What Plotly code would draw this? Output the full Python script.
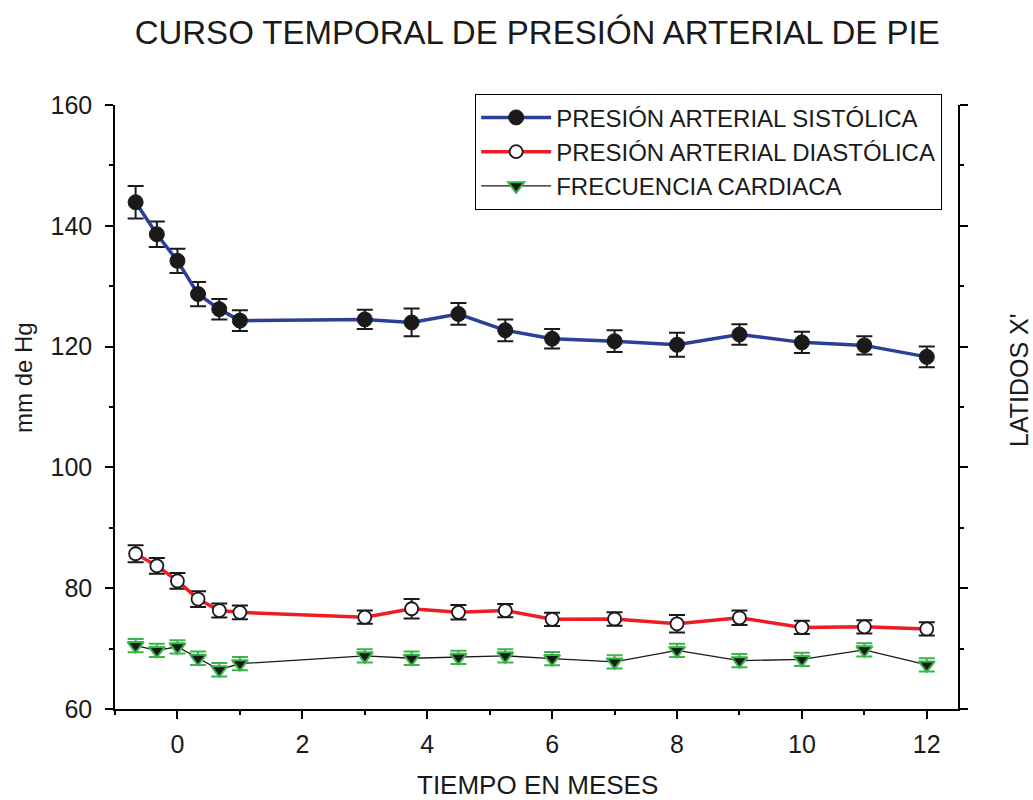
import plotly.graph_objects as go

# ---- data ----
months = [-0.67, -0.33, 0, 0.33, 0.67, 1, 3, 3.75, 4.5, 5.25, 6, 7, 8, 9, 10, 11, 12]

sistolica = [143.9, 138.6, 134.2, 128.7, 126.2, 124.3, 124.5, 124.0, 125.4, 122.7,
             121.3, 120.9, 120.3, 122.0, 120.7, 120.2, 118.3]
sistolica_err = [2.7, 2.1, 2.0, 2.0, 1.7, 1.7, 1.6, 2.3, 1.8, 1.8,
                 1.6, 1.8, 2.0, 1.7, 1.75, 1.5, 1.7]

diastolica = [85.7, 83.7, 81.2, 78.2, 76.3, 76.0, 75.2, 76.6, 76.0, 76.3,
              74.85, 74.9, 74.1, 75.1, 73.5, 73.6, 73.25]
diastolica_err = [1.4, 1.3, 1.3, 1.3, 1.15, 1.15, 1.1, 1.6, 1.2, 1.1,
                  1.1, 1.1, 1.45, 1.2, 1.1, 1.1, 1.1]

frecuencia = [70.5, 69.7, 70.3, 68.4, 66.5, 67.5, 68.8, 68.4, 68.55, 68.8,
              68.35, 67.8, 69.7, 68.0, 68.2, 69.8, 67.3]
frecuencia_err = [1.1] * len(frecuencia)

x_tickvals = [0, 2, 4, 6, 8, 10, 12]
y_tickvals = [60, 80, 100, 120, 140, 160]

FONT = "Liberation Sans, Arial, sans-serif"
INK = "#1a1a1a"
BLUE = "#2b3f98"
RED = "#ee1c25"
GREEN = "#39b54a"

fig = go.Figure()

fig.add_trace(go.Scatter(
    x=months, y=sistolica, name="PRESIÓN ARTERIAL SISTÓLICA",
    mode="lines+markers",
    line=dict(color=BLUE, width=3.5),
    marker=dict(symbol="circle", size=15, color=INK,
                line=dict(color=INK, width=1)),
    error_y=dict(type="data", array=sistolica_err, visible=True,
                 color=INK, thickness=2, width=8),
))

fig.add_trace(go.Scatter(
    x=months, y=diastolica, name="PRESIÓN ARTERIAL DIASTÓLICA",
    mode="lines+markers",
    line=dict(color=RED, width=3.5),
    marker=dict(symbol="circle", size=13, color="white",
                line=dict(color=INK, width=1.8)),
    error_y=dict(type="data", array=diastolica_err, visible=True,
                 color=INK, thickness=2, width=8),
))

fig.add_trace(go.Scatter(
    x=months, y=frecuencia, name="FRECUENCIA CARDIACA",
    mode="lines+markers", yaxis="y2",
    line=dict(color=INK, width=1.3),
    marker=dict(symbol="triangle-down", size=14, color=INK,
                line=dict(color=GREEN, width=2)),
    error_y=dict(type="data", array=frecuencia_err, visible=True,
                 color=GREEN, thickness=2, width=8),
))

axis_common = dict(
    showline=True, linecolor="black", linewidth=1.5,
    showgrid=False, zeroline=False, automargin=False,
    ticks="outside", ticklen=8, tickwidth=1.5, tickcolor="black",
    tickfont=dict(family=FONT, size=25, color=INK),
)
minor_y = dict(dtick=10, tick0=0, ticks="outside", ticklen=4,
               tickwidth=1.5, tickcolor="black")

W, H = 1033, 800
l, r, t, b = 115, 75, 105, 91
pw, ph = W - l - r, H - t - b

fig.update_layout(
    width=W, height=H,
    paper_bgcolor="white", plot_bgcolor="white",
    margin=dict(l=l, r=r, t=t, b=b, autoexpand=False),
    font=dict(family=FONT, color=INK),
    title=dict(text="CURSO TEMPORAL DE PRESIÓN ARTERIAL DE PIE",
               font=dict(family=FONT, size=33, color=INK),
               x=0.52, xref="container", xanchor="center",
               y=0.96, yref="container", yanchor="middle"),
    xaxis=dict(**axis_common, range=[-1, 12.5], tickvals=x_tickvals,
               ticklabelstandoff=4,
               minor=dict(dtick=1, tick0=0, ticks="outside", ticklen=4,
                          tickwidth=1.5, tickcolor="black")),
    yaxis=dict(**axis_common, range=[60, 160], tickvals=y_tickvals,
               ticklabelstandoff=8, minor=minor_y),
    yaxis2=dict(**axis_common, range=[60, 160], tickvals=y_tickvals,
                overlaying="y", side="right", showticklabels=False,
                minor=minor_y),
    legend=dict(x=0.427, y=1.018, xanchor="left", yanchor="top",
                bgcolor="white", bordercolor="black", borderwidth=1.2,
                font=dict(family=FONT, size=24, color=INK),
                itemwidth=70, tracegroupgap=0),
    showlegend=True,
)

# axis titles placed in paper coordinates derived from the plot-area margins
fig.add_annotation(text="TIEMPO EN MESES", xref="paper", yref="paper",
                   x=(537 - l) / pw, y=-(785 - (H - b)) / ph,
                   xanchor="center", yanchor="middle", showarrow=False,
                   font=dict(family=FONT, size=26, color=INK))
fig.add_annotation(text="mm de Hg", textangle=-90, xref="paper", yref="paper",
                   x=(23 - l) / pw, y=1 - (378 - t) / ph,
                   xanchor="center", yanchor="middle", showarrow=False,
                   font=dict(family=FONT, size=24, color=INK))
fig.add_annotation(text="LATIDOS X'", textangle=-90, xref="paper", yref="paper",
                   x=(1019 - l) / pw, y=1 - (380 - t) / ph,
                   xanchor="center", yanchor="middle", showarrow=False,
                   font=dict(family=FONT, size=25, color=INK))

fig.write_html("out.html")
